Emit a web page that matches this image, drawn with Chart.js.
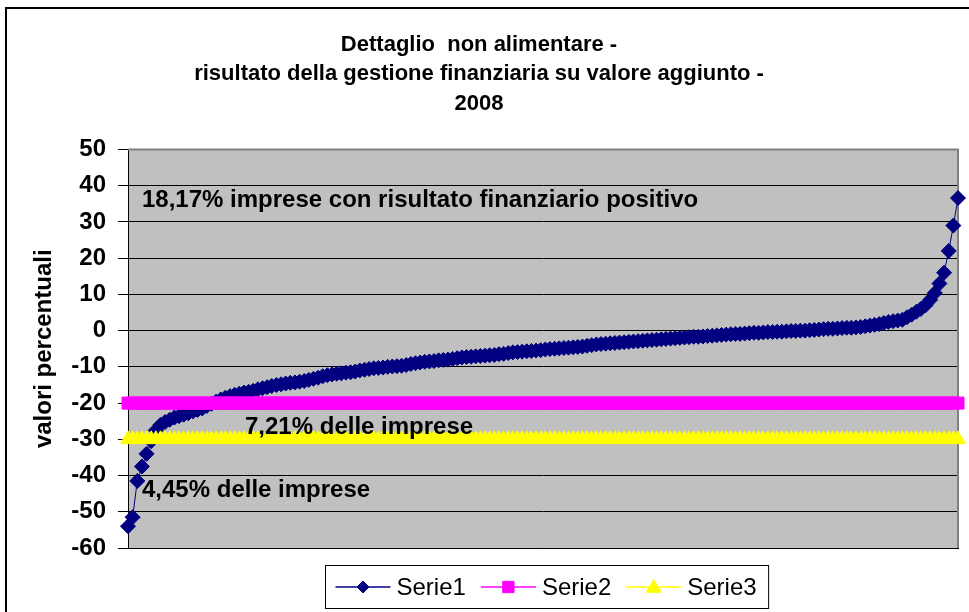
<!DOCTYPE html>
<html>
<head>
<meta charset="utf-8">
<title>Dettaglio non alimentare - 2008</title>
<script src="https://cdn.jsdelivr.net/npm/chart.js@4.4.1/dist/chart.umd.min.js"></script>
<style>
  body { margin: 0; background: #fff; }
  canvas { display: block; }
</style>
</head>
<body>
<canvas id="myChart" width="969" height="612"></canvas>
<script>
// values (sorted distribution, one point per firm group)
const serie1 = [
  -54.0, -51.5, -41.5, -37.5, -34.0, -30.5, -27.5, -26.0, -25.2, -24.6,
  -24.0, -23.6, -23.2, -22.8, -22.3, -21.9, -21.5, -20.8, -20.2, -19.6,
  -19.0, -18.5, -18.1, -17.7, -17.4, -17.1, -16.9, -16.6, -16.2, -15.9,
  -15.6, -15.3, -15.0, -14.8, -14.6, -14.4, -14.3, -14.1, -13.9, -13.6,
  -13.3, -13.0, -12.6, -12.3, -12.1, -11.9, -11.8, -11.6, -11.5, -11.3,
  -11.0, -10.8, -10.6, -10.4, -10.3, -10.2, -10.0, -9.9, -9.8, -9.7,
  -9.5, -9.2, -9.0, -8.8, -8.6, -8.5, -8.4, -8.2, -8.1, -8.0,
  -7.8, -7.6, -7.4, -7.3, -7.2, -7.1, -7.0, -6.9, -6.8, -6.7,
  -6.5, -6.4, -6.2, -6.0, -5.9, -5.8, -5.7, -5.6, -5.5, -5.4,
  -5.2, -5.1, -5.0, -4.9, -4.8, -4.7, -4.6, -4.5, -4.4, -4.2,
  -4.0, -3.8, -3.7, -3.6, -3.5, -3.4, -3.3, -3.2, -3.1, -3.0,
  -2.9, -2.8, -2.7, -2.6, -2.5, -2.4, -2.3, -2.2, -2.1, -2.0,
  -1.9, -1.8, -1.7, -1.7, -1.6, -1.5, -1.4, -1.3, -1.2, -1.1,
  -1.0, -0.9, -0.9, -0.8, -0.7, -0.6, -0.6, -0.5, -0.4, -0.4,
  -0.3, -0.3, -0.2, -0.1, -0.1, 0.0, 0.0, 0.1, 0.2, 0.3,
  0.4, 0.5, 0.5, 0.6, 0.7, 0.8, 0.8, 0.9, 1.0, 1.2,
  1.4, 1.6, 1.8, 2.1, 2.4, 2.6, 2.8, 3.0, 3.7, 4.4,
  5.2, 6.0, 7.0, 8.5, 10.4, 13.0, 16.0, 22.0, 29.0, 36.6
];

// threshold lines, same length as serie1
const serie2 = [
  -20, -20, -20, -20, -20, -20, -20, -20, -20, -20, -20, -20, -20, -20, -20, -20, -20, -20, -20, -20,
  -20, -20, -20, -20, -20, -20, -20, -20, -20, -20, -20, -20, -20, -20, -20, -20, -20, -20, -20, -20,
  -20, -20, -20, -20, -20, -20, -20, -20, -20, -20, -20, -20, -20, -20, -20, -20, -20, -20, -20, -20,
  -20, -20, -20, -20, -20, -20, -20, -20, -20, -20, -20, -20, -20, -20, -20, -20, -20, -20, -20, -20,
  -20, -20, -20, -20, -20, -20, -20, -20, -20, -20, -20, -20, -20, -20, -20, -20, -20, -20, -20, -20,
  -20, -20, -20, -20, -20, -20, -20, -20, -20, -20, -20, -20, -20, -20, -20, -20, -20, -20, -20, -20,
  -20, -20, -20, -20, -20, -20, -20, -20, -20, -20, -20, -20, -20, -20, -20, -20, -20, -20, -20, -20,
  -20, -20, -20, -20, -20, -20, -20, -20, -20, -20, -20, -20, -20, -20, -20, -20, -20, -20, -20, -20,
  -20, -20, -20, -20, -20, -20, -20, -20, -20, -20, -20, -20, -20, -20, -20, -20, -20, -20, -20, -20
];
const serie3 = [
  -30, -30, -30, -30, -30, -30, -30, -30, -30, -30, -30, -30, -30, -30, -30, -30, -30, -30, -30, -30,
  -30, -30, -30, -30, -30, -30, -30, -30, -30, -30, -30, -30, -30, -30, -30, -30, -30, -30, -30, -30,
  -30, -30, -30, -30, -30, -30, -30, -30, -30, -30, -30, -30, -30, -30, -30, -30, -30, -30, -30, -30,
  -30, -30, -30, -30, -30, -30, -30, -30, -30, -30, -30, -30, -30, -30, -30, -30, -30, -30, -30, -30,
  -30, -30, -30, -30, -30, -30, -30, -30, -30, -30, -30, -30, -30, -30, -30, -30, -30, -30, -30, -30,
  -30, -30, -30, -30, -30, -30, -30, -30, -30, -30, -30, -30, -30, -30, -30, -30, -30, -30, -30, -30,
  -30, -30, -30, -30, -30, -30, -30, -30, -30, -30, -30, -30, -30, -30, -30, -30, -30, -30, -30, -30,
  -30, -30, -30, -30, -30, -30, -30, -30, -30, -30, -30, -30, -30, -30, -30, -30, -30, -30, -30, -30,
  -30, -30, -30, -30, -30, -30, -30, -30, -30, -30, -30, -30, -30, -30, -30, -30, -30, -30, -30, -30
];

// category axis is just the rank of each point (labels are not shown)
const categorie = serie1.map((v, i) => String(i + 1));

const titolo = ['Dettaglio  non alimentare -', 'risultato della gestione finanziaria su valore aggiunto -', '2008'];
const yMin = -60;
const yMax = 50;
const yStep = 10;

const FONT = '"Liberation Sans", Arial, sans-serif';
Chart.defaults.font.family = FONT;
Chart.defaults.color = '#000';

// draws one legend marker (same shapes as the dataset points)
function drawMarker(ctx, style, x, y, r) {
  ctx.beginPath();
  if (style === 'rectRot') {
    ctx.moveTo(x - r, y);
    ctx.lineTo(x, y - r);
    ctx.lineTo(x + r, y);
    ctx.lineTo(x, y + r);
  } else if (style === 'rect') {
    const s = r * Math.SQRT1_2;
    ctx.rect(x - s, y - s, 2 * s, 2 * s);
  } else {
    ctx.moveTo(x, y - r);
    ctx.lineTo(x + r * 0.866, y + r / 2);
    ctx.lineTo(x - r * 0.866, y + r / 2);
  }
  ctx.closePath();
  ctx.fill();
  ctx.stroke();
}

const chartFrame = {
  id: 'chartFrame',
  beforeDraw(chart) {
    const { ctx, chartArea: a } = chart;
    ctx.save();
    ctx.fillStyle = '#fff';
    ctx.fillRect(0, 0, chart.width, chart.height);
    ctx.strokeStyle = '#000';
    ctx.lineWidth = 2;
    ctx.beginPath();
    ctx.moveTo(6, chart.height);
    ctx.lineTo(6, 8);
    ctx.lineTo(chart.width, 8);
    ctx.stroke();
    ctx.fillStyle = '#c0c0c0';
    ctx.fillRect(a.left, a.top, a.right - a.left, a.bottom - a.top);
    ctx.restore();
  },
  beforeDatasetsDraw(chart) {
    const { ctx, chartArea: a } = chart;
    ctx.save();
    ctx.strokeStyle = '#808080';
    ctx.lineWidth = 2;
    ctx.beginPath();
    ctx.moveTo(a.left, a.top);
    ctx.lineTo(a.right, a.top);
    ctx.lineTo(a.right, a.bottom);
    ctx.stroke();
    ctx.restore();
  }
};

const notes = {
  id: 'notes',
  afterDatasetsDraw(chart) {
    const { ctx, chartArea: a, scales: { y } } = chart;
    ctx.save();
    ctx.fillStyle = '#000';
    ctx.font = 'bold 24px ' + FONT;
    ctx.textBaseline = 'middle';
    ctx.textAlign = 'left';
    ctx.fillText('18,17% imprese con risultato finanziario positivo', a.left + 14, y.getPixelForValue(36));
    ctx.fillText('7,21% delle imprese', a.left + 117, y.getPixelForValue(-26.8));
    ctx.fillText('4,45% delle imprese', a.left + 14, y.getPixelForValue(-44));
    ctx.restore();
  }
};

const legendBox = {
  id: 'legendBox',
  afterDraw(chart) {
    const { ctx, chartArea: a } = chart;
    const items = chart.data.datasets.map(ds => ({ label: ds.label, color: ds.borderColor, style: ds.pointStyle }));
    ctx.save();
    ctx.font = '24px ' + FONT;
    const widths = items.map(it => ctx.measureText(it.label).width);
    const lineLen = 55, gap = 6, between = 15, padL = 10, padR = 12;
    let total = padL + padR;
    widths.forEach((w, i) => { total += lineLen + gap + w + (i < widths.length - 1 ? between : 0); });
    const boxH = 43;
    const left = Math.round((a.left + a.right) / 2 + 4 - total / 2) + 0.5;
    const top = Math.round(a.bottom + 17) + 0.5;
    ctx.strokeStyle = '#000';
    ctx.lineWidth = 1;
    ctx.strokeRect(left, top, total, boxH);
    const cy = top + boxH / 2;
    let x = left + padL;
    items.forEach((it, i) => {
      ctx.strokeStyle = it.color;
      ctx.fillStyle = it.color;
      ctx.lineWidth = 1.5;
      ctx.beginPath();
      ctx.moveTo(x, cy);
      ctx.lineTo(x + lineLen, cy);
      ctx.stroke();
      ctx.lineWidth = 1;
      const r = it.style === 'rectRot' ? 6 : (it.style === 'rect' ? 8 : 8.5);
      drawMarker(ctx, it.style, x + lineLen / 2, it.style === 'triangle' ? cy + 1 : cy, r);
      ctx.fillStyle = '#000';
      ctx.textBaseline = 'middle';
      ctx.textAlign = 'left';
      ctx.fillText(it.label, x + lineLen + gap, cy + 1);
      x += lineLen + gap + widths[i] + between;
    });
    ctx.restore();
  }
};

const ctx = document.getElementById('myChart').getContext('2d');
new Chart(ctx, {
  type: 'line',
  data: {
    labels: categorie,
    datasets: [
      {
        label: 'Serie1',
        data: serie1,
        borderColor: '#000080',
        backgroundColor: '#000080',
        borderWidth: 1,
        pointStyle: 'rectRot',
        pointRadius: 7.5,
        pointBorderWidth: 1,
        order: 2,
        clip: false
      },
      {
        label: 'Serie2',
        data: serie2,
        borderColor: '#ff00ff',
        backgroundColor: '#ff00ff',
        borderWidth: 1,
        pointStyle: 'rect',
        pointRadius: 8.5,
        pointBorderWidth: 1,
        order: 1,
        clip: false
      },
      {
        label: 'Serie3',
        data: serie3,
        borderColor: '#ffff00',
        backgroundColor: '#ffff00',
        borderWidth: 1,
        pointStyle: 'triangle',
        pointRadius: 8.5,
        pointBorderWidth: 1,
        order: 0,
        clip: false
      }
    ]
  },
  options: {
    responsive: false,
    animation: false,
    events: [],
    layout: { padding: { left: 0, right: 11, top: 0, bottom: 64 } },
    plugins: {
      legend: { display: false },
      tooltip: { enabled: false },
      title: {
        display: true,
        text: titolo,
        color: '#000',
        font: { size: 22, weight: 'bold', lineHeight: '29.5px' },
        padding: { top: 30, bottom: 31 }
      }
    },
    scales: {
      x: {
        type: 'category',
        offset: false,
        ticks: { display: false },
        grid: { display: false, drawTicks: false },
        border: { display: true, color: '#000', width: 1 }
      },
      y: {
        min: yMin,
        max: yMax,
        ticks: {
          stepSize: yStep,
          color: '#000',
          font: { size: 24, weight: 'bold' },
          padding: 12
        },
        grid: {
          color: c => (c.tick && c.tick.value === yMax ? '#808080' : '#000'),
          tickColor: '#000',
          tickLength: 10,
          lineWidth: 1
        },
        border: { color: '#000', width: 1 },
        title: {
          display: true,
          text: 'valori percentuali',
          color: '#000',
          font: { size: 24, weight: 'bold' },
          padding: { top: 30, bottom: 0 }
        },
        afterFit(scale) { scale.width = 128; }
      }
    }
  },
  plugins: [chartFrame, notes, legendBox]
});
</script>
</body>
</html>
